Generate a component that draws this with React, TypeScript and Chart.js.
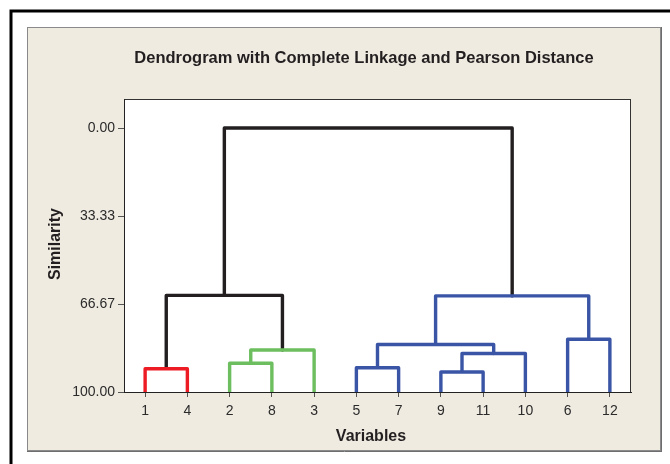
import React, { useEffect, useRef } from "react";
import { Chart, registerables } from "chart.js";

Chart.register(...registerables);

// ---- Data ----
const chartTitle = "Dendrogram with Complete Linkage and Pearson Distance";
const xAxisTitle = "Variables";
const yAxisTitle = "Similarity";
const leafOrder = ["1", "4", "2", "8", "3", "5", "7", "9", "11", "10", "6", "12"];
const leafSimilarity = 100;
// merges: children ids (leaf label or "m<index>"), similarity level, colour
const mergeLeft = ["1", "2", "m1", "5", "9", "m4", "m3", "6", "m0", "m6", "m8"];
const mergeRight = ["4", "8", "3", "7", "11", "10", "m5", "12", "m2", "m7", "m9"];
const mergeHeight = [91.2, 89.1, 84.1, 90.8, 92.4, 85.4, 82.0, 80.0, 63.4, 63.6, 0.0];
const RED = "#ED1C24";
const GREEN = "#6CBE5F";
const BLUE = "#3A55A5";
const BLACK = "#231F20";
const mergeColor = [RED, GREEN, GREEN, BLUE, BLUE, BLUE, BLUE, BLUE, BLACK, BLUE, BLACK];
const yTickValues = [0, 33.33, 66.67, 100];
const yMin = -11;
const yMax = 100;

function buildDatasets() {
  const pos: Record<string, { x: number; y: number }> = {};
  leafOrder.forEach((l, i) => {
    pos[l] = { x: i + 1, y: leafSimilarity };
  });
  const datasets: any[] = [];
  mergeHeight.forEach((h, i) => {
    const a = pos[mergeLeft[i]];
    const b = pos[mergeRight[i]];
    pos["m" + i] = { x: (a.x + b.x) / 2, y: h };
    datasets.push({
      data: [
        { x: a.x, y: a.y },
        { x: a.x, y: h },
        { x: b.x, y: h },
        { x: b.x, y: b.y },
      ],
      borderColor: mergeColor[i],
      backgroundColor: mergeColor[i],
      borderWidth: 3.4,
      pointRadius: 0,
      fill: false,
      tension: 0,
      showLine: true,
      borderJoinStyle: "round",
    });
  });
  return datasets;
}

const FONT = "'Liberation Sans', Arial, Helvetica, sans-serif";

const decorPlugin = {
  id: "decor",
  beforeDraw(chart: any) {
    const ctx = chart.ctx;
    const { left, top, right, bottom } = chart.chartArea;
    ctx.save();
    ctx.fillStyle = "#FFFFFF";
    ctx.fillRect(0, 0, chart.width, chart.height);
    // outer frame
    ctx.strokeStyle = "#000000";
    ctx.lineWidth = 3;
    ctx.strokeRect(11, 11, chart.width + 20, chart.height + 20);
    // beige panel
    ctx.fillStyle = "#EFEBE1";
    ctx.fillRect(27, 27, 634, 424);
    ctx.strokeStyle = "#8A8A8A";
    ctx.lineWidth = 1;
    ctx.strokeRect(27.5, 27.5, 633, 423);
    ctx.strokeStyle = "#6E6E6E";
    ctx.beginPath();
    ctx.moveTo(661.5, 27);
    ctx.lineTo(661.5, 452);
    ctx.moveTo(27, 451.5);
    ctx.lineTo(662, 451.5);
    ctx.stroke();
    // plot area
    ctx.fillStyle = "#FFFFFF";
    ctx.fillRect(left, top, right - left, bottom - top);
    ctx.strokeStyle = "#333333";
    ctx.lineWidth = 1;
    ctx.strokeRect(left + 0.5, top + 0.5, right - left - 1, bottom - top);
    ctx.restore();
  },
  afterDraw(chart: any) {
    const ctx = chart.ctx;
    ctx.save();
    ctx.fillStyle = "#231F20";
    ctx.textAlign = "center";
    ctx.textBaseline = "middle";
    ctx.font = "bold 16.5px " + FONT;
    ctx.fillText(chartTitle, 364, 58);
    ctx.font = "bold 16px " + FONT;
    ctx.fillText(xAxisTitle, 371, 437);
    ctx.translate(56, 244);
    ctx.rotate(-Math.PI / 2);
    ctx.fillText(yAxisTitle, 0, 0);
    ctx.restore();
  },
};

export default function App() {
  const ref = useRef<HTMLCanvasElement | null>(null);
  useEffect(() => {
    if (!ref.current) return;
    const chart = new Chart(ref.current, {
      type: "line",
      data: { datasets: buildDatasets() },
      options: {
        animation: false,
        responsive: false,
        devicePixelRatio: 1,
        layout: { padding: { left: 0, top: 99, right: 39, bottom: 0 } },
        plugins: {
          legend: { display: false },
          title: { display: false },
          tooltip: { enabled: false },
        },
        scales: {
          x: {
            type: "linear",
            min: 0.5,
            max: 12.5,
            afterBuildTicks: (scale: any) => {
              scale.ticks = leafOrder.map((_, i) => ({ value: i + 1 }));
            },
            afterFit: (scale: any) => {
              scale.height = 72;
            },
            ticks: {
              autoSkip: false,
              maxRotation: 0,
              padding: 6,
              color: "#2B2B2B",
              font: { size: 14, family: FONT },
              callback: (v: any) => leafOrder[Math.round(Number(v)) - 1] ?? "",
            },
            grid: {
              display: true,
              drawOnChartArea: false,
              drawTicks: true,
              tickLength: 5,
              color: "#555555",
            },
            border: { display: true, color: "#222222", width: 1 },
          },
          y: {
            type: "linear",
            reverse: true,
            min: yMin,
            max: yMax,
            afterBuildTicks: (scale: any) => {
              scale.ticks = yTickValues.map((v) => ({ value: v }));
            },
            afterFit: (scale: any) => {
              scale.width = 124;
            },
            ticks: {
              autoSkip: false,
              padding: 3,
              color: "#2B2B2B",
              font: { size: 14, family: FONT },
              callback: (v: any) => Number(v).toFixed(2),
            },
            grid: {
              display: true,
              drawOnChartArea: false,
              drawTicks: true,
              tickLength: 6,
              color: "#555555",
            },
            border: { display: true, color: "#222222", width: 1 },
          },
        },
      },
      plugins: [decorPlugin],
    } as any);
    return () => chart.destroy();
  }, []);
  return (
    <div style={{ position: "absolute", left: 0, top: 0, width: 670, height: 464 }}>
      <canvas ref={ref} width={670} height={464} style={{ display: "block" }} />
    </div>
  );
}
